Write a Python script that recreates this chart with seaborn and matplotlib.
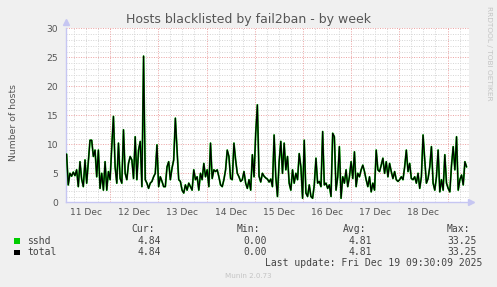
import numpy as np
import pandas as pd
import matplotlib
matplotlib.use("Agg")
import matplotlib.pyplot as plt
import seaborn as sns

# ---------------- data ----------------
title = "Hosts blacklisted by fail2ban - by week"
ylabel = "Number of hosts"
day_labels = ["11 Dec", "12 Dec", "13 Dec", "14 Dec", "15 Dec", "16 Dec", "17 Dec", "18 Dec"]
day_noons = pd.date_range("2025-12-11 12:00", periods=8, freq="D")
end_time = "2025-12-19 09:30"
step = "50min"

hosts = [
    8.3, 3.0, 5.0, 4.5, 5.2, 4.6, 5.6, 2.7, 7.0, 4.0,
    2.7, 7.3, 3.3, 7.0, 10.7, 10.7, 7.9, 9.0, 4.4, 9.0,
    2.4, 5.0, 2.1, 7.0, 2.1, 5.3, 3.9, 9.6, 14.8, 6.1,
    3.3, 10.2, 4.1, 3.3, 12.5, 5.0, 3.9, 6.7, 7.9, 7.3,
    4.1, 11.3, 3.9, 9.0, 10.5, 2.7, 25.2, 3.9, 3.3, 2.4,
    3.3, 3.6, 4.4, 5.0, 9.9, 2.7, 4.4, 3.6, 2.7, 2.7,
    6.1, 7.0, 3.9, 5.9, 7.3, 14.5, 9.0, 3.9, 3.6, 2.1,
    1.6, 3.0, 2.1, 3.3, 2.7, 2.1, 5.6, 3.9, 4.4, 2.1,
    5.0, 3.9, 6.7, 4.4, 5.6, 2.7, 10.2, 4.1, 5.6, 5.3,
    5.6, 4.4, 3.0, 2.7, 3.9, 5.6, 9.0, 7.9, 4.1, 3.9,
    10.2, 7.3, 5.0, 4.4, 3.6, 3.9, 5.3, 3.3, 2.4, 3.9,
    2.1, 8.2, 4.4, 11.9, 16.8, 4.5, 3.5, 5.0, 4.5, 4.2,
    4.0, 3.5, 4.0, 2.7, 11.6, 4.4, 1.0, 7.0, 10.5, 5.0,
    10.2, 5.6, 7.9, 3.3, 2.1, 5.6, 3.3, 5.0, 3.9, 8.4,
    6.1, 0.7, 10.7, 1.6, 1.0, 3.0, 1.0, 0.7, 3.0, 7.6,
    3.3, 3.6, 2.7, 12.2, 3.0, 3.3, 2.4, 3.0, 1.0, 11.9,
    11.3, 2.1, 4.4, 9.6, 0.7, 4.4, 3.3, 5.6, 2.7, 4.4,
    7.0, 4.1, 8.7, 2.7, 5.0, 4.4, 5.6, 6.4, 5.3, 3.9,
    2.7, 4.4, 1.8, 3.3, 2.1, 9.0, 5.6, 5.3, 6.4, 7.6,
    5.0, 7.0, 4.4, 6.7, 5.3, 4.1, 5.3, 3.9, 3.6, 3.9,
    4.4, 3.9, 6.1, 9.0, 5.3, 6.7, 4.1, 3.9, 4.4, 3.3,
    5.0, 2.4, 4.4, 11.6, 7.3, 3.3, 4.1, 6.1, 9.6, 3.3,
    2.1, 4.4, 9.0, 1.8, 3.9, 2.1, 8.2, 3.3, 2.4, 1.8,
    6.4, 9.6, 5.6, 11.3, 2.1, 3.9, 4.7, 3.0, 7.0, 6.1,
]

series_names = ["sshd", "total"]
series_colors = ["#00cc00", "#000000"]
stat_headers = ["Cur:", "Min:", "Avg:", "Max:"]
stat_values = {
    "sshd": ["4.84", "0.00", "4.81", "33.25"],
    "total": ["4.84", "0.00", "4.81", "33.25"],
}
last_update = "Last update: Fri Dec 19 09:30:09 2025"
version = "Munin 2.0.73"
side_text = "RRDTOOL / TOBI OETIKER"

# ---------------- figure ----------------
W, H = 497, 287
sns.set_theme(style="white")
plt.rcParams["font.family"] = ["DejaVu Sans"]
fig = plt.figure(figsize=(W / 100, H / 100), dpi=100, facecolor="#f0f0f0")

def fx(px):
    return px / W

def fy(py):
    return 1 - py / H

ax_l, ax_r, ax_t, ax_b = 66, 469, 28.3, 202.3
ax = fig.add_axes([fx(ax_l), fy(ax_b), (ax_r - ax_l) / W, (ax_b - ax_t) / H])
ax.set_facecolor("white")

times = pd.date_range(end=end_time, periods=len(hosts), freq=step)
df = pd.DataFrame({"time": times, "sshd": hosts, "total": hosts})

t0 = pd.Timestamp("2025-12-11 00:00") + pd.Timedelta(days=(ax_l - 61.9) / 48.2)
t1 = pd.Timestamp("2025-12-11 00:00") + pd.Timedelta(days=(ax_r - 61.9) / 48.2)
ax.set_xlim(t0, t1)
ax.set_ylim(0, 30)

# grid
minor_col = "#d4d4d4"
major_col = "#eba0a0"
for v in range(1, 30):
    if v % 5:
        ax.axhline(v, color=minor_col, lw=0.7, ls=(0, (1, 1.5)), zorder=0)
six_h = pd.date_range("2025-12-11 06:00", "2025-12-19 18:00", freq="6h")
for t in six_h:
    if t.hour != 0:
        ax.axvline(t, color=minor_col, lw=0.7, ls=(0, (1, 1.5)), zorder=0)
for v in range(5, 31, 5):
    ax.axhline(v, color=major_col, lw=0.7, ls=(0, (1, 1.5)), zorder=0.5)
for t in pd.date_range("2025-12-12", "2025-12-19", freq="D"):
    ax.axvline(t, color=major_col, lw=0.7, ls=(0, (1, 1.5)), zorder=0.5)

sns.lineplot(data=df, x="time", y="sshd", color=series_colors[0], lw=1.3, ax=ax, zorder=3)
sns.lineplot(data=df, x="time", y="total", color=series_colors[1], lw=0.9, ax=ax, zorder=4)

# axes styling
for s in ["top", "right"]:
    ax.spines[s].set_visible(False)
axis_col = "#c6c6f2"
ax.spines["left"].set_color(axis_col)
ax.spines["bottom"].set_color(axis_col)
ax.spines["left"].set_linewidth(1)
ax.spines["bottom"].set_linewidth(1)
ax.plot([0], [1.035], marker="^", ms=4, color=axis_col, transform=ax.transAxes, clip_on=False)
ax.plot([1.006], [0], marker=">", ms=4, color=axis_col, transform=ax.transAxes, clip_on=False)

txt_col = "#555555"
ax.set_yticks(range(0, 31, 5))
ax.set_yticklabels([str(v) for v in range(0, 31, 5)], fontsize=6.6, color=txt_col)
ax.tick_params(axis="y", length=2, width=0.7, color=major_col, pad=3.5)
ax.set_xticks(day_noons)
ax.set_xticklabels(day_labels, fontsize=6.6, color=txt_col)
ax.tick_params(axis="x", length=0, pad=4)
ax.set_xlabel("")
ax.set_ylabel("")

fig.text(fx(248.7), fy(19), title, ha="center", va="center", fontsize=9, color=txt_col)
fig.text(fx(14), fy(122), ylabel, ha="center", va="center", rotation=90, fontsize=6.7, color=txt_col)
fig.text(fx(488.5), fy(53), side_text, ha="center", va="center", rotation=270, fontsize=5.3, color="#c4c4c4")

# legend
mono = "DejaVu Sans Mono"
leg_col = "#444444"
head_x = [131, 237, 343, 447]
val_right = [161, 267, 372, 477]
for hx, h in zip(head_x, stat_headers):
    fig.text(fx(hx), fy(228.5), h, ha="left", va="center", fontsize=7, family=mono, color=leg_col)
rows_y = [240.5, 252]
for ry, name, col in zip(rows_y, series_names, series_colors):
    fig.patches.append(plt.Rectangle((fx(14), fy(ry + 3)), 5.5 / W, 5.5 / H, transform=fig.transFigure,
                                     facecolor=col, edgecolor="none"))
    fig.text(fx(27), fy(ry), name, ha="left", va="center", fontsize=7, family=mono, color=leg_col)
    for vr, val in zip(val_right, stat_values[name]):
        fig.text(fx(vr), fy(ry), val, ha="right", va="center", fontsize=7, family=mono, color=leg_col)
fig.text(fx(482), fy(263.5), last_update, ha="right", va="center", fontsize=7, family=mono, color=leg_col)
fig.text(fx(248), fy(276), version, ha="center", va="center", fontsize=5.1, color="#c4c4c4")

fig.savefig("out.png", dpi=100, facecolor=fig.get_facecolor())
